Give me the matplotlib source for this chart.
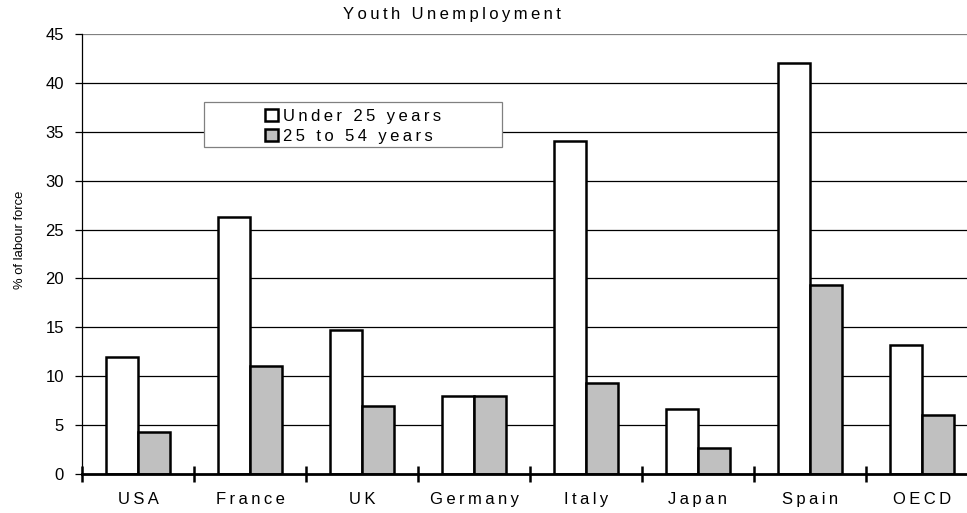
import numpy as np
import matplotlib
matplotlib.use('Agg')
from matplotlib import pyplot as plt
from matplotlib.patches import Patch, Rectangle

plt.rcParams['font.family'] = ['Liberation Sans', 'DejaVu Sans']

# data
countries = ['USA', 'France', 'UK', 'Germany', 'Italy', 'Japan', 'Spain', 'OECD']
under_25 = [12.0, 26.3, 14.7, 8.0, 34.1, 6.6, 42.0, 13.2]
age_25_54 = [4.3, 11.0, 7.0, 8.0, 9.3, 2.7, 19.3, 6.0]
series_names = ['Under 25 years', '25 to 54 years']
yticks = [0, 5, 10, 15, 20, 25, 30, 35, 40, 45]


def spaced(s):
    # mimic the wide letter spacing of the original with thin spaces
    return '\u2009'.join(s)


W, H = 967, 513
fig = plt.figure(figsize=(W / 100, H / 100), dpi=100)
# axes runs a bit past the right edge, like the original
ax = fig.add_axes([82 / W, 1 - 474 / H, 896 / W, 440 / H])

x = np.arange(len(countries))
w = 0.285
ax.bar(x - w / 2, under_25, w, color='white', edgecolor='black', linewidth=1.8, zorder=3)
ax.bar(x + w / 2, age_25_54, w, color='#c0c0c0', edgecolor='black', linewidth=1.8, zorder=3)

ax.set_xlim(-0.5, len(countries) - 0.5)
ax.set_ylim(0, 45)
ax.set_yticks(yticks)
for v in yticks[1:]:
    ax.axhline(v, color='black' if v < 45 else '#808080', linewidth=0.9, zorder=1)

ax.set_xticks(x)
ax.set_xticklabels([spaced(c) for c in countries], fontsize=12)
ax.set_xticks(np.arange(len(countries) + 1) - 0.5, minor=True)
ax.tick_params(axis='x', which='major', length=0, pad=13)
ax.tick_params(axis='x', which='minor', direction='inout', length=11, width=1.8)
ax.tick_params(axis='y', length=5, width=0.9, labelsize=12, pad=8)

for s in ['top', 'right']:
    ax.spines[s].set_visible(False)
ax.spines['left'].set_linewidth(0.9)
ax.spines['bottom'].set_linewidth(2)
ax.spines['bottom'].set_zorder(4)

ax.set_ylabel('% of labour force', fontsize=9.4)
ax.yaxis.set_label_coords(-56 / 896, (474 - 240) / 440)
fig.text(452 / W, 1 - 14 / H, spaced('Youth Unemployment'), ha='center', va='center', fontsize=12)

# legend frame is much wider than its contents in the original
frame = Rectangle((204 / W, 1 - 147 / H), 298 / W, 45 / H, transform=fig.transFigure,
                  facecolor='white', edgecolor='#808080', linewidth=0.9, zorder=4)
ax.add_patch(frame)
frame.set_clip_on(False)

handles = [Patch(facecolor='white', edgecolor='black', linewidth=1.8),
           Patch(facecolor='#c0c0c0', edgecolor='black', linewidth=1.8)]
leg = ax.legend(handles, [spaced(n) for n in series_names],
                loc='upper left', bbox_to_anchor=(265 / W, 1 - 109 / H),
                bbox_transform=fig.transFigure, frameon=False,
                handlelength=0.8, handleheight=0.75, handletextpad=0.3,
                labelspacing=0.3, borderpad=0, borderaxespad=0, prop={'size': 12})
leg.set_zorder(5)

fig.savefig('out.png', dpi=100)
